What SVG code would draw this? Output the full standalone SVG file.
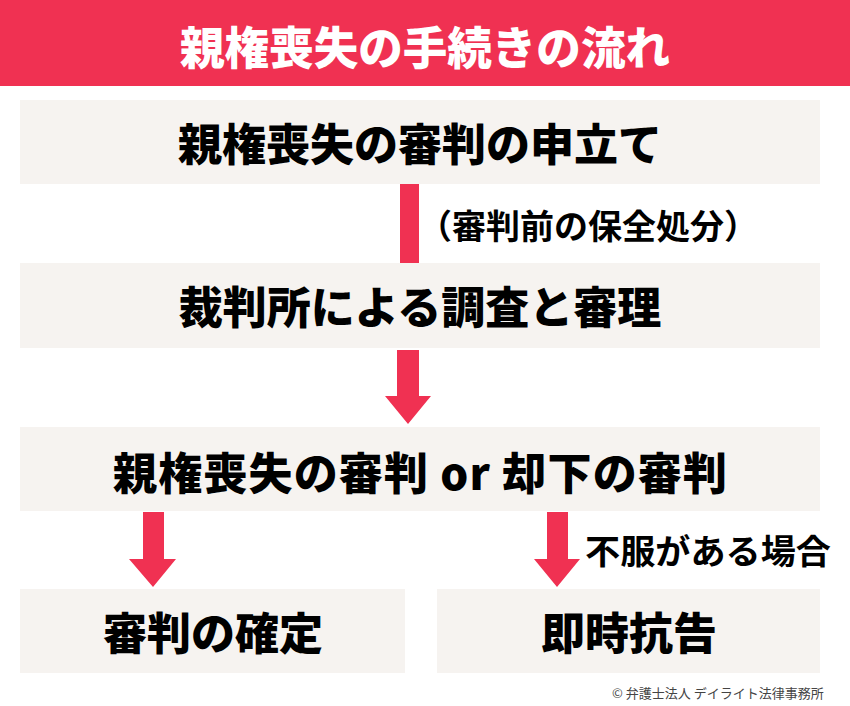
<svg xmlns="http://www.w3.org/2000/svg" width="850" height="706" viewBox="0 0 850 706">
<style>
.box{fill:#F6F3F0;}
.red{fill:#F03152;}
.t{font-family:"Noto Sans CJK JP","Noto Sans",sans-serif;font-weight:900;fill:#000;text-anchor:middle;dominant-baseline:central;}
.big{font-size:44px;}
.lbl{font-family:"Noto Sans CJK JP","Noto Sans",sans-serif;font-weight:700;fill:#000;dominant-baseline:central;font-size:34px;}
</style>
<rect width="850" height="706" fill="#FFFFFF"/>
<g id="header">
<rect x="0" y="0" width="850" height="86" class="red"/>
<text x="425" y="45" class="t" style="fill:#fff;font-size:45px" textLength="490" lengthAdjust="spacingAndGlyphs">親権喪失の手続きの流れ</text>
</g>
<g id="node1">
<rect x="20" y="100" width="800" height="84" class="box"/>
<text x="420" y="142" class="t big">親権喪失の審判の申立て</text>
</g>
<g id="node2">
<rect x="20" y="263" width="800" height="85" class="box"/>
<text x="420" y="305" class="t big">裁判所による調査と審理</text>
</g>
<g id="node3">
<rect x="20" y="427" width="800" height="84" class="box"/>
<text x="420" y="471" class="t big" textLength="614" lengthAdjust="spacing">親権喪失の審判 or 却下の審判</text>
</g>
<g id="node4">
<rect x="20" y="589" width="385" height="84" class="box"/>
<text x="213" y="631" class="t big">審判の確定</text>
</g>
<g id="node5">
<rect x="437" y="589" width="383" height="84" class="box"/>
<text x="629" y="631" class="t big">即時抗告</text>
</g>
<g id="connectors">
<rect x="400" y="184" width="19" height="79" class="red"/>
<text x="588" y="224" class="lbl" text-anchor="middle">（審判前の保全処分）</text>
<polygon points="397,350 419,350 419,396 431,396 408,424 385,396 397,396" class="red"/>
<polygon points="143,512 164,512 164,559 176,559 153,587 129,559 143,559" class="red"/>
<polygon points="547,512 568,512 568,559 580,559 557,587 534,559 547,559" class="red"/>
<text x="585" y="549" class="lbl" textLength="246" lengthAdjust="spacingAndGlyphs">不服がある場合</text>
</g>
<text x="612" y="692" font-family="Noto Sans CJK JP, sans-serif" font-size="13" fill="#444" dominant-baseline="central">© 弁護士法人 デイライト法律事務所</text>
</svg>
